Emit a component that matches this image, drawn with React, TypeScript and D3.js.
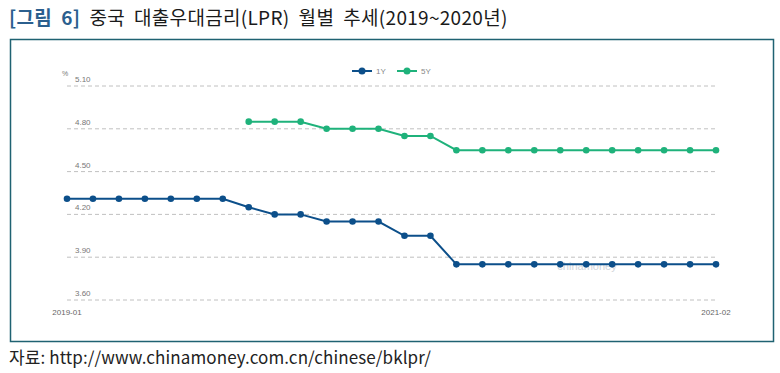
import React from "react";
import * as d3 from "d3";

const months = [
  "2019-01", "2019-02", "2019-03", "2019-04", "2019-05", "2019-06", "2019-07",
  "2019-08", "2019-09", "2019-10", "2019-11", "2019-12", "2020-01", "2020-02",
  "2020-03", "2020-04", "2020-05", "2020-06", "2020-07", "2020-08", "2020-09",
  "2020-10", "2020-11", "2020-12", "2021-01", "2021-02",
];
const lpr1y = [
  4.31, 4.31, 4.31, 4.31, 4.31, 4.31, 4.31, 4.25, 4.2, 4.2, 4.15, 4.15, 4.15,
  4.05, 4.05, 3.85, 3.85, 3.85, 3.85, 3.85, 3.85, 3.85, 3.85, 3.85, 3.85, 3.85,
];
const lpr5y: (number | null)[] = [
  null, null, null, null, null, null, null, 4.85, 4.85, 4.85, 4.8, 4.8, 4.8,
  4.75, 4.75, 4.65, 4.65, 4.65, 4.65, 4.65, 4.65, 4.65, 4.65, 4.65, 4.65, 4.65,
];
const yTicks = [3.6, 3.9, 4.2, 4.5, 4.8, 5.1];
const xTickLabels = ["2019-01", "2021-02"];

const W = 780;
const H = 373;
const C1 = "#0c4f8a";
const C5 = "#1fb27b";
const axisFont = "'Liberation Sans', Arial, sans-serif";
const krFont = "'Noto Sans CJK KR', 'Noto Sans', sans-serif";

export default function App() {
  const x = d3.scalePoint<string>().domain(months).range([67, 716]);
  const y = d3.scaleLinear().domain([3.6, 5.1]).range([300, 86]);

  const line = d3
    .line<number | null>()
    .defined((d) => d != null)
    .x((_, i) => x(months[i])!)
    .y((d) => y(d as number));

  const series = [
    { name: "1Y", values: lpr1y as (number | null)[], color: C1 },
    { name: "5Y", values: lpr5y, color: C5 },
  ];

  return (
    <svg
      width={W}
      height={H}
      style={{ position: "absolute", left: 0, top: 0, background: "#fff" }}
    >
      {/* title */}
      <text x={9} y={25} fontFamily={krFont} fontSize={19} fill="#1a1a1a" xmlSpace="preserve" letterSpacing={0.3}>
        <tspan fill="#2b5f8e" fontWeight={700}>[그림  6]</tspan>
        <tspan>  중국  대출우대금리(LPR)  월별  추세(2019~2020년)</tspan>
      </text>

      {/* frame */}
      <rect x={10.5} y={39.5} width={763} height={302} fill="none" stroke="#1f6272" strokeWidth={1.5} />

      {/* grid + y labels */}
      {yTicks.map((t) => (
        <g key={t}>
          <line
            x1={67}
            x2={716}
            y1={y(t)}
            y2={y(t)}
            stroke="#b0b0b0"
            strokeWidth={0.8}
            strokeDasharray="4 3"
          />
          <text x={75} y={y(t) - 4} fontFamily={axisFont} fontSize={8} fill="#777">
            {t.toFixed(2)}
          </text>
        </g>
      ))}
      <text x={62} y={76} fontFamily={axisFont} fontSize={7} fill="#777">%</text>

      {/* x labels */}
      {xTickLabels.map((m) => (
        <text
          key={m}
          x={x(m)!}
          y={315}
          textAnchor="middle"
          fontFamily={axisFont}
          fontSize={8}
          fill="#666"
        >
          {m}
        </text>
      ))}

      {/* watermark */}
      <text x={587} y={270} textAnchor="middle" fontFamily={axisFont} fontSize={11} fill="#c8ccd2" opacity={0.8}>
        chinamoney
      </text>

      {/* series */}
      {series.map((s) => (
        <g key={s.name}>
          <path d={line(s.values) ?? ""} fill="none" stroke={s.color} strokeWidth={2} />
          {s.values.map((v, i) =>
            v == null ? null : (
              <circle key={i} cx={x(months[i])!} cy={y(v)} r={3.3} fill={s.color} />
            )
          )}
        </g>
      ))}

      {/* legend */}
      {series.map((s, i) => {
        const cx = 362 + i * 45;
        return (
          <g key={s.name}>
            <line x1={cx - 10} x2={cx + 10} y1={71} y2={71} stroke={s.color} strokeWidth={2} />
            <circle cx={cx} cy={71} r={3.5} fill={s.color} />
            <text x={cx + 14} y={74} fontFamily={axisFont} fontSize={8} fill="#888">
              {s.name}
            </text>
          </g>
        );
      })}

      {/* source */}
      <text x={9} y={364} fontFamily={krFont} fontSize={17} fill="#222" letterSpacing={0.1}>
        자료: http://www.chinamoney.com.cn/chinese/bklpr/
      </text>
    </svg>
  );
}
